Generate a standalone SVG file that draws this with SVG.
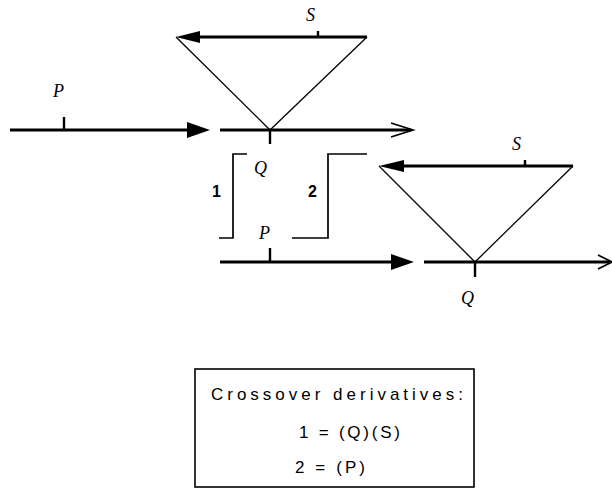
<svg xmlns="http://www.w3.org/2000/svg" width="612" height="489" viewBox="0 0 612 489">
  <style>
    .main { stroke: #000; stroke-width: 2.8; fill: none; }
    .side { stroke: #000; stroke-width: 1.3; fill: none; }
    .tick { stroke: #000; stroke-width: 2.4; fill: none; }
    .brk { stroke: #000; stroke-width: 1.7; fill: none; }
    .open { stroke: #000; stroke-width: 1.7; fill: none; }
    .head { fill: #000; stroke: none; }
    .lbl { font-family: "Liberation Serif", serif; font-style: italic; font-size: 18px; fill: #000; }
    .num { font-family: "Liberation Sans", Arial, sans-serif; font-size: 16px; font-weight: bold; fill: #000; }
    .box { font-family: "Liberation Sans", Arial, sans-serif; font-size: 17px; fill: #000; }
  </style>
  <rect width="612" height="489" fill="#fff"/>

  <g id="connectors">
    <!-- Reaction 1 -->
    <line class="main" x1="10" y1="130" x2="190" y2="130"/>
    <polygon class="head" points="187,122 210,130 187,138"/>
    <line class="main" x1="220" y1="130" x2="411" y2="130"/>
    <polyline class="open" points="391,123 413,130 391,137"/>
    <line class="main" x1="367" y1="37" x2="196" y2="37"/>
    <polygon class="head" points="200,31 176,37 200,43"/>
    <line class="side" x1="176" y1="37" x2="270" y2="130"/>
    <line class="side" x1="367" y1="37" x2="270" y2="130"/>
    <line class="tick" x1="64" y1="117" x2="64" y2="130"/>
    <line class="tick" x1="270" y1="130" x2="270" y2="144"/>
    <line class="tick" x1="318" y1="31" x2="318" y2="37"/>

    <!-- Reaction 2 -->
    <line class="main" x1="220" y1="262" x2="394" y2="262"/>
    <polygon class="head" points="391,254 414,262 391,270"/>
    <line class="main" x1="424" y1="262" x2="610" y2="262"/>
    <polyline class="open" points="598,255 612,262 598,269"/>
    <line class="main" x1="573" y1="166" x2="400" y2="166"/>
    <polygon class="head" points="404,160 379,166 404,172"/>
    <line class="side" x1="379" y1="166" x2="475" y2="262"/>
    <line class="side" x1="573" y1="166" x2="475" y2="262"/>
    <line class="tick" x1="270" y1="248" x2="270" y2="262"/>
    <line class="tick" x1="475" y1="262" x2="475" y2="277"/>
    <line class="tick" x1="525" y1="160" x2="525" y2="166"/>
  </g>

  <g id="reaction1">
    <text class="lbl" x="53" y="97">P</text>
    <text class="lbl" x="306" y="21">S</text>
  </g>

  <g id="crossover-brackets">
    <polyline class="brk" points="219,238 233,238 233,154 247,154"/>
    <text class="num" x="212" y="197">1</text>
    <text class="lbl" x="254" y="174">Q</text>
    <polyline class="brk" points="292,238 328,238 328,154 367,154"/>
    <text class="num" x="308" y="197">2</text>
  </g>

  <g id="reaction2">
    <text class="lbl" x="259" y="239">P</text>
    <text class="lbl" x="512" y="150">S</text>
    <text class="lbl" x="461" y="304">Q</text>
  </g>

  <g id="legend">
    <rect x="195" y="369" width="279" height="118" fill="none" stroke="#000" stroke-width="1.6"/>
    <text class="box" x="211" y="400" textLength="252" lengthAdjust="spacing">Crossover derivatives:</text>
    <text class="box" x="299" y="438" textLength="101" lengthAdjust="spacing">1 = (Q)(S)</text>
    <text class="box" x="295" y="473" textLength="70" lengthAdjust="spacing">2 = (P)</text>
  </g>
</svg>
